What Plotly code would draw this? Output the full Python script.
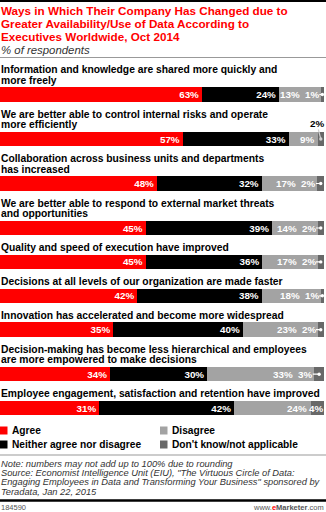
import plotly.graph_objects as go

# ---------------- data ----------------
categories = [
    "Information and knowledge are shared more quickly and\nmore freely",
    "We are better able to control internal risks and operate\nmore efficiently",
    "Collaboration across business units and departments\nhas increased",
    "We are better able to respond to external market threats\nand opportunities",
    "Quality and speed of execution have improved",
    "Decisions at all levels of our organization are made faster",
    "Innovation has accelerated and become more widespread",
    "Decision-making has become less hierarchical and employees\nare more empowered to make decisions",
    "Employee engagement, satisfaction and retention have improved",
]
agree = [63, 57, 48, 45, 45, 42, 35, 34, 31]
neither = [24, 33, 32, 39, 36, 38, 40, 30, 42]
disagree = [13, 9, 17, 14, 17, 18, 23, 33, 24]
dontknow = [1, 2, 2, 2, 2, 1, 2, 3, 4]
series_names = ["Agree", "Neither agree nor disagree", "Disagree", "Don't know/not applicable"]

title_lines = [
    "Ways in Which Their Company Has Changed due to",
    "Greater Availability/Use of Data According to",
    "Executives Worldwide, Oct 2014",
]
subtitle = "% of respondents"
note_lines = [
    "Note: numbers may not add up to 100% due to rounding",
    "Source: Economist Intelligence Unit (EIU), \"The Virtuous Circle of Data:",
    "Engaging Employees in Data and Transforming Your Business\" sponsored by",
    "Teradata, Jan 22, 2015",
]
chart_id = "184590"

# ---------------- style / layout ----------------
W, H = 326, 512
ML, MR = 0, 2
PLOT_W = W - ML - MR
COLORS = ["#ff0000", "#000000", "#a3a3a3", "#686868"]
FONT = "Liberation Sans, Arial, sans-serif"
BAR_H = 14.5
LINE_H = 10.6
GAP = 23.3
LABEL_SIZE = 10.3
VAL_SIZE = 9.8
# where the small "don't know" label goes for each row
dk_mode = ["left", "above", "left", "left", "left", "left", "left", "left", "inside"]

label_lines = [c.split("\n") for c in categories]
ycent = []
prev = 50.0
for lines in label_lines:
    prev = prev + GAP + LINE_H * len(lines)
    ycent.append(prev)

fig = go.Figure()
series = [agree, neither, disagree, dontknow]
for i, (name, vals) in enumerate(zip(series_names, series)):
    show_text = i < 2
    fig.add_trace(go.Bar(
        orientation="h", x=vals, y=ycent, width=BAR_H, name=name,
        marker=dict(color=COLORS[i], line=dict(width=0)),
        text=[f"{v}%" for v in vals] if show_text else None,
        textposition="inside" if show_text else "none",
        insidetextanchor="end", constraintext="none",
        textfont=dict(color="white", size=VAL_SIZE, family=FONT, weight="bold"),
        showlegend=False, hoverinfo="skip",
    ))

ann = []
shapes = []
px_per_pct = PLOT_W / 100.0


def A(**kw):
    kw.setdefault("borderpad", 0)
    kw.setdefault("showarrow", False)
    ann.append(kw)


for r in range(len(categories)):
    tot = agree[r] + neither[r] + disagree[r] + dontknow[r]
    yc = ycent[r]
    top = yc - BAR_H / 2
    # category label lines
    lines = label_lines[r]
    for k, ln in enumerate(lines):
        A(x=0, xref="paper", xanchor="left", y=top - 7 - LINE_H * (len(lines) - 1 - k),
          yref="y", yanchor="middle", text=ln,
          font=dict(family=FONT, size=LABEL_SIZE, color="#000", weight="bold"))
    # disagree label
    dis_end = (agree[r] + neither[r] + disagree[r]) / tot * 100
    shift = -20 if dk_mode[r] == "left" else -3
    A(x=dis_end, xref="x", xanchor="right", xshift=shift, y=yc, yref="y",
      yanchor="middle", text=f"{disagree[r]}%",
      font=dict(family=FONT, size=VAL_SIZE, color="white", weight="bold"))
    # don't know label
    dk_w = dontknow[r] / tot * 100
    dk_c = 100 - dk_w / 2
    if dk_mode[r] == "left":
        A(x=dk_c, xref="x", y=yc, yref="y", text=f"{dontknow[r]}%",
          showarrow=True, ax=-(9 + dk_w * px_per_pct / 2), ay=0,
          arrowhead=6, arrowsize=0.7, arrowwidth=1.2, arrowcolor="white",
          font=dict(family=FONT, size=VAL_SIZE, color="white", weight="bold"))
    elif dk_mode[r] == "above":
        A(x=dk_c, xref="x", y=yc, yref="y", text=f"{dontknow[r]}%",
          showarrow=True, ax=-4, ay=-15.5,
          arrowhead=6, arrowsize=0.7, arrowwidth=1.2, arrowcolor="#d0d0d0",
          font=dict(family=FONT, size=VAL_SIZE, color="#000", weight="bold"))
    else:
        A(x=100, xref="x", xanchor="right", y=yc, yref="y", yanchor="middle",
          text=f"{dontknow[r]}%",
          font=dict(family=FONT, size=VAL_SIZE, color="white", weight="bold"))

# title
for k, t in enumerate(title_lines):
    A(x=0, xref="paper", xanchor="left", y=10.8 + 12.7 * k, yref="y", yanchor="middle",
      text=t, font=dict(family=FONT, size=11.7, color="#ff0000", weight="bold"))
A(x=0, xref="paper", xanchor="left", y=49.5, yref="y", yanchor="middle",
  text=subtitle, font=dict(family=FONT, size=11.4, color="#333", style="italic"))

# legend (manual, two columns)
leg_pos = [(0, 430.5), (0, 444.5), (160, 430.5), (160, 444.5)]
for i, name in enumerate(series_names):
    lx, ly = leg_pos[i]
    shapes.append(dict(type="rect", xref="paper", yref="y",
                       x0=lx / PLOT_W, x1=(lx + 7.5) / PLOT_W, y0=ly - 4, y1=ly + 4,
                       fillcolor=COLORS[i], line=dict(width=0)))
    A(x=(lx + 10.5) / PLOT_W, xref="paper", xanchor="left", y=ly, yref="y",
      yanchor="middle", text=name,
      font=dict(family=FONT, size=10.2, color="#000", weight="bold"))

# notes
for k, t in enumerate(note_lines):
    A(x=0, xref="paper", xanchor="left", y=463.5 + 9.4 * k, yref="y", yanchor="middle",
      text=t, font=dict(family=FONT, size=9.3, color="#333", style="italic"))
A(x=0, xref="paper", xanchor="left", y=507.5, yref="y", yanchor="middle",
  text=chart_id, font=dict(family=FONT, size=7.5, color="#555"))
A(x=(W - 1) / PLOT_W, xref="paper", xanchor="right", y=507.5, yref="y", yanchor="middle",
  text="www.<b><span style='color:#ff0000'>e</span>Marketer</b>.com",
  font=dict(family=FONT, size=7.5, color="#555"))

# rules
full = W / PLOT_W
shapes.append(dict(type="line", xref="paper", yref="y", x0=0, x1=full, y0=1, y1=1,
                   line=dict(color="#000", width=2)))
shapes.append(dict(type="line", xref="paper", yref="y", x0=0, x1=full, y0=57.5, y1=57.5,
                   line=dict(color="#999", width=1)))
shapes.append(dict(type="line", xref="paper", yref="y", x0=0, x1=full, y0=455, y1=455,
                   line=dict(color="#999", width=1)))
shapes.append(dict(type="line", xref="paper", yref="y", x0=0, x1=full, y0=500.5, y1=500.5,
                   line=dict(color="#000", width=2.5)))

fig.update_layout(
    width=W, height=H, margin=dict(l=ML, r=MR, t=0, b=0, pad=0),
    barmode="stack", barnorm="percent",
    paper_bgcolor="white", plot_bgcolor="white",
    xaxis=dict(range=[0, 100], visible=False, fixedrange=True),
    yaxis=dict(range=[H, 0], visible=False, fixedrange=True),
    annotations=ann, shapes=shapes, showlegend=False,
    font=dict(family=FONT),
)
fig.write_html("out.html", config={"displayModeBar": False})
